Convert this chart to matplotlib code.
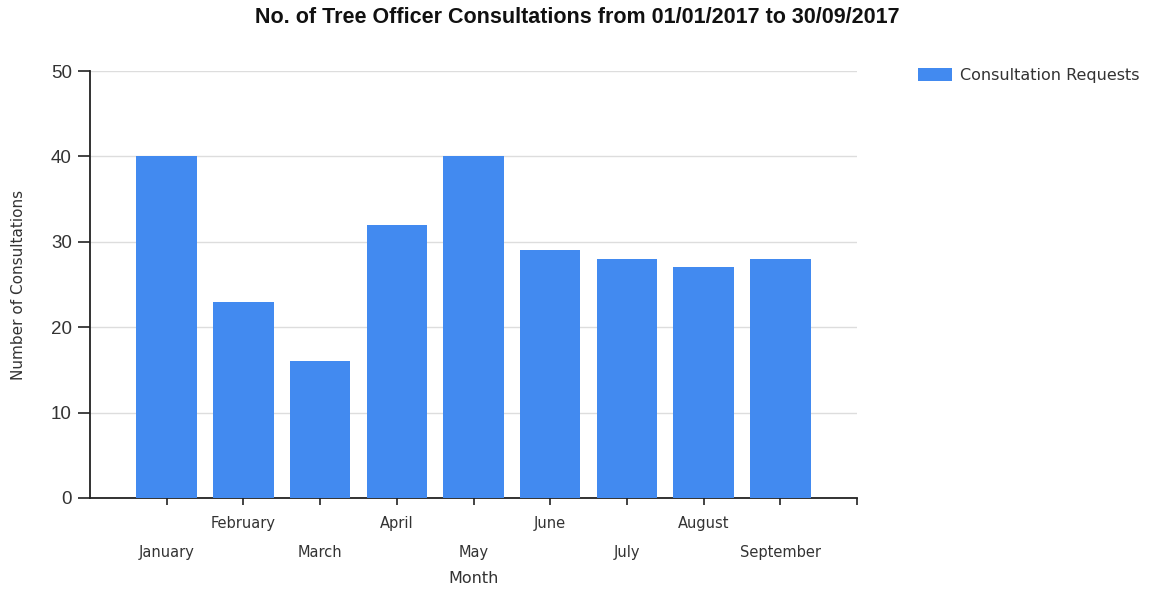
import matplotlib
matplotlib.use("Agg")
import matplotlib.pyplot as plt
import numpy as np

months = ["January", "February", "March", "April", "May", "June", "July", "August", "September"]
requests = [40, 23, 16, 32, 40, 29, 28, 27, 28]
series_name = "Consultation Requests"
yticks = [0, 10, 20, 30, 40, 50]

plt.rcParams['font.family'] = ['DejaVu Sans']

fig = plt.figure(figsize=(11.55, 5.91), dpi=100)
ax = fig.add_axes([90/1155, 93/591, 767/1155, 427/591])

x = np.arange(len(months))
ax.bar(x, requests, width=0.79, color="#428AF0", label=series_name, zorder=3)

ax.set_xlim(-1, len(months))
ax.set_ylim(0, 50)
ax.set_yticks(yticks)
ax.yaxis.grid(True, color="#DDDDDD", linewidth=1, zorder=0)
ax.set_axisbelow(True)

major = [i for i in range(len(months)) if i % 2 == 0]
minor = [i for i in range(len(months)) if i % 2 == 1] + [len(months)]
ax.set_xticks(major)
ax.set_xticklabels([months[i] for i in major])
ax.set_xticks(minor, minor=True)
ax.set_xticklabels([months[i] for i in minor[:-1]] + [""], minor=True)

ax.tick_params(axis='x', which='both', length=5, width=1.2, color="#222222",
               labelsize=10.5, labelcolor="#333333", direction='out')
ax.tick_params(axis='x', which='major', pad=28.5)
ax.tick_params(axis='x', which='minor', pad=8)
ax.tick_params(axis='y', length=9, width=1.2, color="#222222", labelsize=13.5,
               labelcolor="#333333", pad=4)
for lab in ax.get_yticklabels():
    lab.set_fontfamily('Liberation Sans')

for s in ['top', 'right']:
    ax.spines[s].set_visible(False)
for s in ['left', 'bottom']:
    ax.spines[s].set_color("#222222")
    ax.spines[s].set_linewidth(1.3)

ax.set_xlabel("Month", fontsize=11.5, color="#333333", labelpad=8)
ax.set_ylabel("Number of Consultations", fontsize=11, color="#333333", labelpad=18)

fig.suptitle("No. of Tree Officer Consultations from 01/01/2017 to 30/09/2017",
             x=577/1155, y=1 - 7/591, fontsize=15.5, fontweight='bold', color="#111111",
             va='top', fontfamily='Liberation Sans')

fig.legend(loc='upper left', bbox_to_anchor=(912/1155, 1 - 62/591), frameon=False,
           fontsize=11.5, handlelength=2.1, handleheight=0.85, handletextpad=0.5,
           labelcolor="#333333", borderaxespad=0)

fig.savefig("out.png", dpi=100)
